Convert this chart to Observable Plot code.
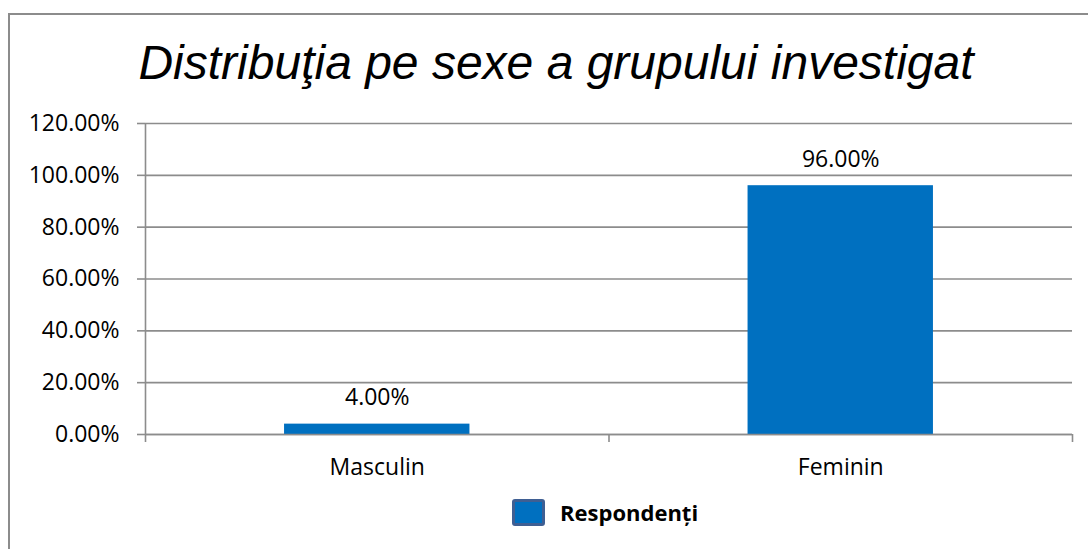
<!DOCTYPE html>
<html>
<head>
<meta charset="utf-8">
<script src="https://cdn.jsdelivr.net/npm/d3@7"></script>
<script src="https://cdn.jsdelivr.net/npm/@observablehq/plot@0.6"></script>
<style>
  html, body { margin: 0; padding: 0; background: #fff; overflow: hidden; }
  #page { position: relative; width: 1088px; height: 549px; overflow: hidden; }
  #frame { position: absolute; left: 8px; top: 13px; width: 1120px; height: 580px; border: 2px solid #8c8c8c; box-sizing: border-box; }
  #title { position: absolute; left: 0; top: 39px; width: 1112px; text-align: center; font-family: "Liberation Sans", Arial, sans-serif; font-style: italic; font-size: 48px; line-height: 48px; color: #000; white-space: nowrap; }
  #chart { position: absolute; left: 0; top: 95px; }
  #legend { position: absolute; left: 512px; top: 497px; display: flex; align-items: center; font-family: "Open Sans", sans-serif; font-weight: bold; font-size: 22px; color: #000; }
  #legend .sw { width: 33px; height: 27px; box-sizing: border-box; background: #0070C0; border: 3px solid #3f5f93; border-radius: 3px; margin-right: 15px; }
</style>
</head>
<body>
<div id="page">
  <div id="frame"></div>
  <div id="title"></div>
  <div id="chart"></div>
  <div id="legend"><span class="sw"></span><span id="legend-label"></span></div>
</div>
<script>
const titleText = "Distribuţia pe sexe a grupului investigat";
const seriesName = "Respondenți";
const categories = ["Masculin", "Feminin"];
const values = [0.04, 0.96];
const yTicks = [0, 0.2, 0.4, 0.6, 0.8, 1.0, 1.2];

document.getElementById("title").textContent = titleText;
document.getElementById("legend-label").textContent = seriesName;

const data = categories.map((c, i) => ({category: c, i, value: values[i]}));
const fmt = v => (v * 100).toFixed(2) + "%";

const W = 1088, H = 454;
const mL = 145, mR = 16, mT = 28, mB = 115;
const band = (W - mL - mR) / categories.length;
const inset = band * 0.3;
const gray = "#8c8c8c";
const fs = 23;

const plot = Plot.plot({
  width: W,
  height: H,
  marginLeft: mL,
  marginRight: mR,
  marginTop: mT,
  marginBottom: mB,
  style: {fontFamily: "'Open Sans', sans-serif", fontSize: fs + "px", color: "#000", background: "transparent"},
  x: {type: "linear", domain: [0, categories.length]},
  y: {domain: [0, 1.2]},
  marks: [
    Plot.gridY(yTicks, {stroke: gray, strokeOpacity: 1, strokeWidth: 1.6}),
    Plot.axisY(yTicks, {tickFormat: fmt, tickSize: 8, tickPadding: 18, stroke: gray, strokeWidth: 1.6, fontSize: fs, label: null}),
    Plot.axisX(d3.range(categories.length + 1), {tickSize: 8, tickFormat: () => "", stroke: gray, strokeWidth: 1.6, label: null}),
    Plot.axisX(categories.map((_, i) => i + 0.5), {tickSize: 0, tickPadding: 24, tickFormat: v => categories[Math.floor(v)], fontSize: fs, label: null}),
    Plot.ruleX([0], {stroke: gray, strokeWidth: 1.6}),
    Plot.rectY(data, {x1: "i", x2: d => d.i + 1, y: "value", insetLeft: inset, insetRight: inset, fill: "#0070C0"}),
    Plot.ruleY([0], {stroke: gray, strokeWidth: 1.6}),
    Plot.text(data, {x: d => d.i + 0.5, y: "value", text: d => fmt(d.value), dy: -19, lineAnchor: "bottom", fontSize: fs, fill: "#000"})
  ]
});
document.getElementById("chart").appendChild(plot);
</script>
</body>
</html>
